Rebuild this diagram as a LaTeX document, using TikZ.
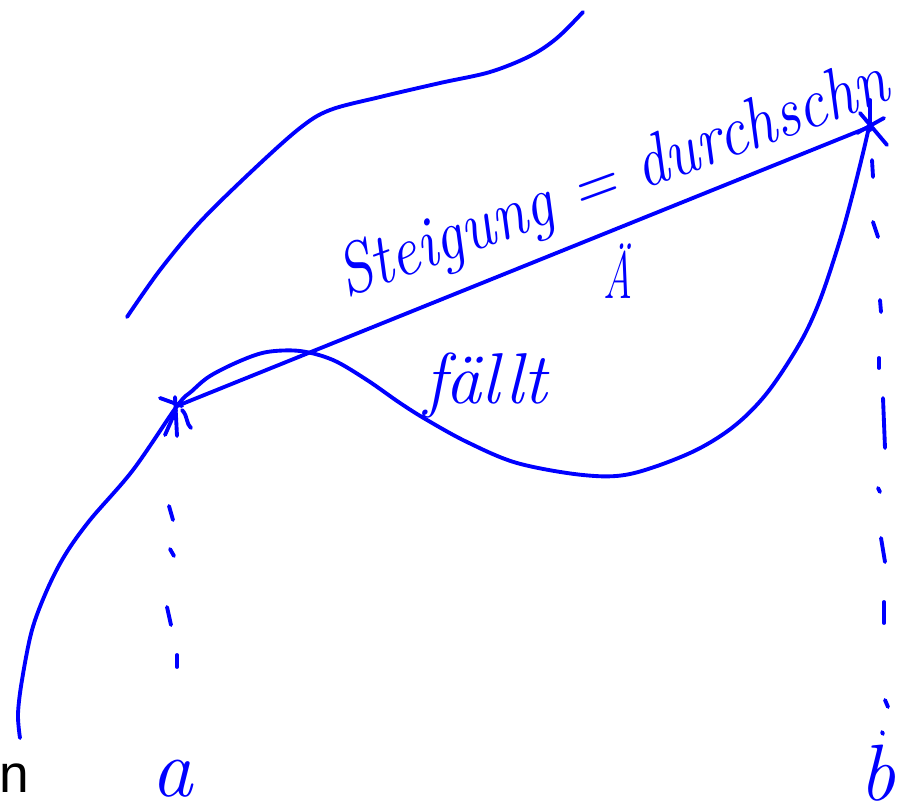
\documentclass[tikz,border=0pt]{standalone}
\usepackage{fontspec}
\newfontfamily\sansn{Liberation Sans}
\definecolor{pen}{RGB}{0,0,255}
\tikzset{
  ink/.style={draw=pen, line width=2.9pt, line cap=round, line join=round},
  hand/.style={text=pen, inner sep=0pt, font=\itshape},
}
\begin{document}
\begin{tikzpicture}[x=0.75pt,y=-0.75pt]
\useasboundingbox (0,0) rectangle (906,808);

% points a and b
\coordinate (a) at (177,406);
\coordinate (b) at (869,127);

% upper curve
\draw[ink] plot[smooth, tension=0.55] coordinates {(127,317) (160,270) (200,222) (253,170) (300,128) (330,110) (380,97) (440,83) (490,72) (530,56) (557,38) (583,12)};

% main curve
\draw[ink] plot[smooth, tension=0.55] coordinates {(20,738) (18,714) (22,680) (32,630) (47,590) (65,555) (90,520) (133,470) (177,406) (192,391) (210,376) (240,361) (267,352) (300,351) (333,360) (367,380) (400,403) (427,420) (467,442) (517,463) (583,475) (630,474) (690,453) (733,427) (767,393) (800,343) (820,300) (840,240) (853,193) (863,153) (869,127)};

% secant
\draw[ink] (a) -- (b);

% asterisk at a
\draw[ink] (160,398) -- (182,406);
\draw[ink] (175,397) -- (177,436);
\draw[ink] (182,410) .. controls (188,416) and (186,424) .. (191,428);
\draw[ink] (165,435) -- (176,410);

% asterisk at b
\draw[ink] (860,113) -- (887,145);
\draw[ink] (857,133) -- (884,118);
\draw[ink] (870,100) -- (870,130);

% dashed drop line under a
\draw[ink] (169,506) -- (173,520);
\draw[ink] (170,549) -- (174,556);
\draw[ink] (167,607) -- (171,625);
\draw[ink] (177,655) -- (177,667);

% dashed drop line under b
\draw[ink] (872,160) -- (873,177);
\draw[ink] (873,222) -- (878,237);
\draw[ink] (880,300) -- (881,312);
\draw[ink] (879,358) -- (879,368);
\draw[ink] (883,398) -- (885,448);
\draw[ink] (878,488) -- (880,492);
\draw[ink] (881,538) -- (885,562);
\draw[ink] (884,602) -- (884,623);
\draw[ink] (885,700) -- (888,707);
\draw[ink] (882,732) -- (883,734);

% labels
\node[hand, anchor=base west, rotate=20, xscale=0.87, font=\itshape\fontsize{54}{58}\selectfont] (t1) at (346,298) {Steigung = durchschn};
\node[hand, anchor=base, xscale=0.6, font=\itshape\fontsize{50}{56}\selectfont] (t2) at (618,298) {Ä};
\node[hand, anchor=base west, font=\itshape\fontsize{54}{58}\selectfont] (t3) at (424,403) {fällt};
\node[hand, anchor=base, font=\itshape\fontsize{62}{66}\selectfont] (la) at (172,796) {a};
\node[hand, anchor=base, font=\itshape\fontsize{60}{66}\selectfont] (lb) at (877,800) {b};
\node[inner sep=0pt, anchor=base west, font=\sansn\fontsize{40}{44}\selectfont] (ln) at (-1,792) {n};
\end{tikzpicture}
\end{document}
